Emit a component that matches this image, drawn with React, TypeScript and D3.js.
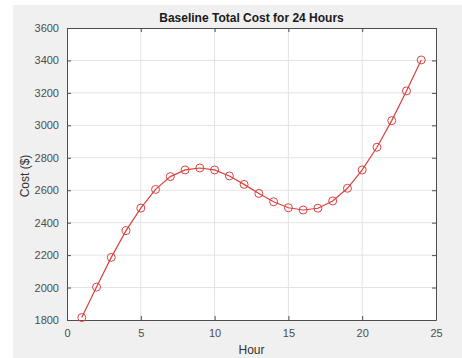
import React, { useEffect, useRef } from "react";
import * as d3 from "d3";

const hours = [1, 2, 3, 4, 5, 6, 7, 8, 9, 10, 11, 12, 13, 14, 15, 16, 17, 18, 19, 20, 21, 22, 23, 24];
const costs = [
  1815, 2003, 2186, 2351, 2490, 2605, 2684, 2725, 2737, 2725, 2688, 2636,
  2580, 2529, 2492, 2478, 2489, 2534, 2612, 2725, 2865, 3029, 3212, 3403,
];
const xTicks = [0, 5, 10, 15, 20, 25];
const yTicks = [1800, 2000, 2200, 2400, 2600, 2800, 3000, 3200, 3400, 3600];

const App = () => {
  const ref = useRef<SVGSVGElement>(null);

  useEffect(() => {
    const width = 462;
    const height = 358;
    const margin = { top: 28, right: 26, bottom: 38, left: 67 };
    const font = "Helvetica, Arial, 'Liberation Sans', sans-serif";
    const red = "#d9423f";
    const axisColor = "#4d4d4d";

    d3.select(ref.current).selectAll("*").remove();

    const svg = d3.select(ref.current).attr("width", width).attr("height", height);

    // figure background
    svg.append("rect").attr("width", width).attr("height", height).attr("fill", "#ffffff");
    svg
      .append("rect")
      .attr("x", 13)
      .attr("y", 5)
      .attr("width", width - 13)
      .attr("height", height - 5)
      .attr("fill", "#f0f0f0");

    const x_scale = d3.scaleLinear().domain([0, 25]).range([margin.left, width - margin.right]);
    const y_scale = d3.scaleLinear().domain([1800, 3600]).range([height - margin.bottom, margin.top]);

    const x0 = margin.left;
    const x1 = width - margin.right;
    const y0 = height - margin.bottom;
    const y1 = margin.top;

    svg
      .append("rect")
      .attr("x", x0)
      .attr("y", y1)
      .attr("width", x1 - x0)
      .attr("height", y0 - y1)
      .attr("fill", "#ffffff");

    // grid
    svg
      .append("g")
      .selectAll("line")
      .data(xTicks.slice(1, -1))
      .enter()
      .append("line")
      .attr("x1", (d) => x_scale(d))
      .attr("x2", (d) => x_scale(d))
      .attr("y1", y1)
      .attr("y2", y0)
      .attr("stroke", "#e3e3e3");
    svg
      .append("g")
      .selectAll("line")
      .data(yTicks.slice(1, -1))
      .enter()
      .append("line")
      .attr("x1", x0)
      .attr("x2", x1)
      .attr("y1", (d) => y_scale(d))
      .attr("y2", (d) => y_scale(d))
      .attr("stroke", "#e3e3e3");

    // axes with inward ticks on all sides
    const styleAxis = (g) => {
      g.select(".domain").attr("stroke", axisColor);
      g.selectAll(".tick line").attr("stroke", axisColor);
      g.selectAll(".tick text")
        .attr("fill", "#4d4d4d")
        .attr("font-family", font)
        .attr("font-size", 11);
    };

    svg
      .append("g")
      .attr("transform", `translate(0,${y0})`)
      .call(d3.axisBottom(x_scale).tickValues(xTicks).tickSizeInner(-4).tickSizeOuter(0).tickPadding(9))
      .call(styleAxis);
    svg
      .append("g")
      .attr("transform", `translate(0,${y1})`)
      .call(d3.axisTop(x_scale).tickValues(xTicks).tickSizeInner(-4).tickSizeOuter(0).tickFormat(() => ""))
      .call(styleAxis);
    svg
      .append("g")
      .attr("transform", `translate(${x0},0)`)
      .call(d3.axisLeft(y_scale).tickValues(yTicks).tickSizeInner(-4).tickSizeOuter(0).tickPadding(8).tickFormat(d3.format("d")))
      .call(styleAxis);
    svg
      .append("g")
      .attr("transform", `translate(${x1},0)`)
      .call(d3.axisRight(y_scale).tickValues(yTicks).tickSizeInner(-4).tickSizeOuter(0).tickFormat(() => ""))
      .call(styleAxis);

    // line + markers
    const line = d3
      .line<number>()
      .x((d, i) => x_scale(hours[i]))
      .y((d) => y_scale(d));

    svg
      .append("path")
      .datum(costs)
      .attr("d", line)
      .attr("fill", "none")
      .attr("stroke", red)
      .attr("stroke-width", 1.2);

    svg
      .append("g")
      .selectAll("circle")
      .data(costs)
      .enter()
      .append("circle")
      .attr("cx", (d, i) => x_scale(hours[i]))
      .attr("cy", (d) => y_scale(d))
      .attr("r", 4)
      .attr("fill", "none")
      .attr("stroke", red)
      .attr("stroke-width", 1);

    // labels
    svg
      .append("text")
      .attr("x", (x0 + x1) / 2)
      .attr("y", 22)
      .attr("text-anchor", "middle")
      .attr("font-family", font)
      .attr("font-size", 12)
      .attr("font-weight", "bold")
      .attr("fill", "#1a1a1a")
      .text("Baseline Total Cost for 24 Hours");

    svg
      .append("text")
      .attr("x", (x0 + x1) / 2)
      .attr("y", 354)
      .attr("text-anchor", "middle")
      .attr("font-family", font)
      .attr("font-size", 12)
      .attr("fill", "#333333")
      .text("Hour");

    svg
      .append("text")
      .attr("transform", `translate(29,${(y0 + y1) / 2 + 2}) rotate(-90)`)
      .attr("text-anchor", "middle")
      .attr("font-family", font)
      .attr("font-size", 12)
      .attr("fill", "#333333")
      .text("Cost ($)");
  }, []);

  return (
    <svg ref={ref} style={{ position: "absolute", left: 0, top: 0 }}></svg>
  );
};

export default App;
